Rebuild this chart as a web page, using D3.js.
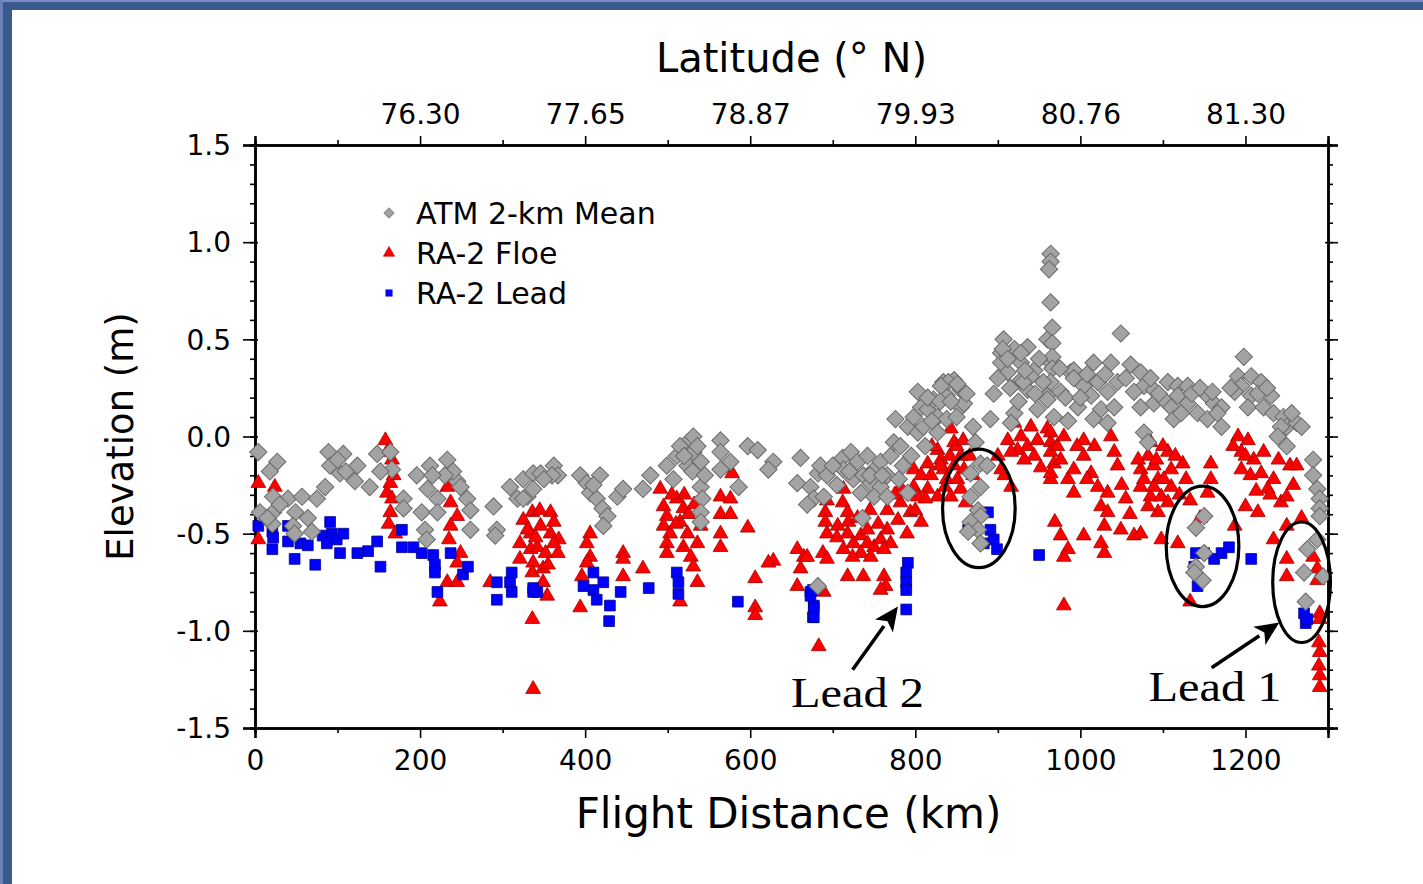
<!DOCTYPE html>
<html><head><meta charset="utf-8">
<script src="https://cdn.jsdelivr.net/npm/d3@7"></script>
<style>html,body{margin:0;padding:0;background:#fff;}svg{display:block;}</style>
</head><body>
<svg id="chart" width="1423" height="884"></svg>
<script>
// ---------- DATA ----------
const xTicks = [0, 200, 400, 600, 800, 1000, 1200];
const xMinorTicks = [100, 300, 500, 700, 900, 1100, 1300];
const yTicks = [-1.5, -1.0, -0.5, 0.0, 0.5, 1.0, 1.5];
const latTickKm = [200, 400, 600, 800, 1000, 1200];
const latTickLabels = ["76.30", "77.65", "78.87", "79.93", "80.76", "81.30"];
const seriesNames = ["ATM 2-km Mean", "RA-2 Floe", "RA-2 Lead"];

// [flight distance km, elevation m]
const atmMean = [
[4,-0.08],[27,-0.13],[18,-0.18],[22,-0.31],[6,-0.39],[22,-0.39],[40,-0.32],[57,-0.31],[75,-0.32],[49,-0.39],[64,-0.42],[21,-0.45],[46,-0.46],[48,-0.5],[69,-0.49],[89,-0.08],[107,-0.09],[91,-0.15],[103,-0.19],[124,-0.15],[121,-0.23],[85,-0.26],[139,-0.26],[148,-0.09],[164,-0.08],[166,-0.17],[152,-0.18],[180,-0.32],[180,-0.37],[196,-0.2],[212,-0.15],[233,-0.12],[209,-0.27],[221,-0.32],[202,-0.39],[221,-0.39],[245,-0.23],[249,-0.26],[257,-0.32],[261,-0.38],[240,-0.18],[206,-0.48],[208,-0.53],[261,-0.48],[289,-0.36],[293,-0.48],[291,-0.51],[309,-0.26],[325,-0.22],[337,-0.19],[318,-0.32],[330,-0.31],
[346,-0.19],[362,-0.15],[367,-0.2],[337,-0.27],[325,-0.32],[394,-0.2],[402,-0.24],[406,-0.29],[414,-0.32],[421,-0.37],[427,-0.41],[422,-0.46],[418,-0.2],[439,-0.31],[446,-0.27],[470,-0.27],[479,-0.2],[499,-0.15],[511,-0.1],[524,-0.03],[531,0.0],[515,-0.05],[531,-0.08],[540,-0.13],[524,-0.15],[507,-0.22],[540,-0.26],[542,-0.32],[540,-0.39],[540,-0.44],[564,-0.02],[564,-0.08],[576,-0.13],[564,-0.17],[597,-0.05],[609,-0.07],[628,-0.13],[622,-0.17],[586,-0.26],[661,-0.11],[657,-0.24],[673,-0.26],[677,-0.32],[669,-0.35],[682,-0.19],[682,-0.77],
[685,-0.15],[693,-0.2],[689,-0.31],[712,-0.11],[722,-0.08],[713,-0.17],[730,-0.13],[742,-0.1],[725,-0.22],[737,-0.2],[750,-0.17],[746,-0.24],[758,-0.26],[734,-0.29],[750,-0.31],[766,-0.31],[736,-0.42],[758,-0.13],[770,-0.1],[766,-0.2],[776,0.09],[774,-0.03],[782,-0.05],[791,0.05],[798,0.1],[803,0.23],[807,0.15],[815,0.14],[803,0.02],[791,-0.29],[822,0.19],[834,0.28],[847,0.29],[855,0.24],[838,0.21],[827,0.1],[838,0.09],[855,0.15],[859,0.17],[810,0.05],[827,0.02],[873,-0.03],[879,-0.14],[887,-0.15],[867,-0.19],[879,-0.26],[867,-0.31],[876,-0.38],[879,-0.41],[867,-0.44],[876,-0.48],[864,-0.49],[879,-0.55],[895,0.22],[891,0.09],[904,0.43],[904,0.38],[912,0.33],[920,0.45],[936,0.46],[928,0.38],[928,0.29],[936,0.24],[920,0.12],[916,0.07],[944,0.34],[960,0.5],[964,0.38],[960,0.21],[948,0.14],
[964,0.94],[964,0.9],[962,0.86],[964,0.69],[966,0.56],[966,0.48],[966,0.41],[966,0.35],[907,0.5],[906,0.45],[912,0.4],[928,0.43],[940,0.31],[931,0.28],[840,0.28],[851,0.27],[831,0.26],[988,0.33],[997,0.31],
[1049,0.53],[1016,0.38],[1037,0.38],[1061,0.37],[992,0.34],[964,0.28],[976,0.23],[960,0.19],[992,0.3],[1004,0.26],[1021,0.28],[1013,0.21],[1033,0.23],[1045,0.28],[997,0.15],[1025,0.14],[1041,0.15],[1016,0.09],[1033,0.07],[968,0.1],[985,0.08],[1073,0.33],[1077,0.26],[1065,0.23],[1089,0.24],[1106,0.28],[1118,0.26],[1130,0.26],[1073,0.15],[1089,0.17],[1101,0.19],[1110,0.15],[1118,0.21],[1130,0.17],[1113,0.09],[1142,0.12],[1154,0.21],[1162,0.17],[1171,0.15],[1154,0.09],[1166,0.12],[1171,0.05],[1077,0.02],[1082,-0.03],[1198,0.41],[1191,0.31],[1207,0.31],[1195,0.26],[1219,0.28],[1187,0.23],[1207,0.21],[1231,0.21],[1203,0.15],[1222,0.15],[1234,0.12],[1246,0.1],[1250,0.05],[1262,0.07],[1243,0.05],[1239,0.0],[1250,-0.05],[1282,-0.12],[1282,-0.2],[1287,-0.27],[1290,-0.32],[1290,-0.37],[1290,-0.41],[1287,-0.53],[1275,-0.58],[1271,-0.7],[1294,-0.72],[1273,-0.85],[1150,-0.41],[1140,-0.47],[1150,-0.6],[1140,-0.67],[1148,-0.74],[1138,-0.7],
[815,0.2],[820,0.08],[830,0.18],[843,0.18],[850,0.1],[862,0.22],[870,0.05],[812,-0.05],[795,-0.1],[785,-0.15],[780,-0.22],[900,0.3],[915,0.25],[925,0.18],[933,0.34],[945,0.22],[950,0.4],[955,0.28],[975,0.35],[982,0.2],[1000,0.2],[1008,0.32],[1030,0.32],[1055,0.3],[1085,0.3],[1095,0.22],[1122,0.12],[1135,0.22],[1145,0.25],[1160,0.23],[1182,0.25],[1215,0.22],[1226,0.25],[1256,0.12],[1268,0.05],[700,-0.15],[705,-0.25],[720,-0.18],[745,-0.2],[760,-0.2],[530,-0.18],[520,-0.1],[536,-0.05],[545,-0.2],[410,-0.25],[360,-0.2],[350,-0.22],[230,-0.2],[215,-0.2],[100,-0.12],[110,-0.18],[30,-0.35],[15,-0.42]
];

const ra2Floe = [
[4,-0.24],[24,-0.26],[27,-0.35],[4,-0.53],[158,-0.02],[164,-0.24],[160,-0.29],[166,-0.32],[164,-0.39],[162,-0.45],[170,-0.5],[237,-0.34],[245,-0.41],[237,-0.46],[235,-0.53],[249,-0.6],[245,-0.65],[233,-0.75],[245,-0.75],[224,-0.85],[233,-0.26],[336,-0.39],[325,-0.43],[334,-0.5],[321,-0.55],[334,-0.58],[337,-0.65],[321,-0.63],[336,-0.7],[285,-0.75],[336,-0.94],[337,-1.3],
[358,-0.39],[330,-0.48],[346,-0.46],[362,-0.44],[358,-0.5],[368,-0.53],[342,-0.57],[352,-0.6],[367,-0.6],[349,-0.68],[349,-0.75],[354,-0.82],[406,-0.5],[402,-0.55],[406,-0.62],[402,-0.65],[396,-0.72],[394,-0.88],[446,-0.6],[446,-0.63],[446,-0.72],[470,-0.68],[491,-0.27],[495,-0.36],[499,-0.41],[495,-0.46],[503,-0.5],[499,-0.55],[499,-0.6],[511,-0.32],[519,-0.37],[515,-0.44],[524,-0.5],[519,-0.57],[528,-0.62],[531,-0.67],[536,-0.55],[540,-0.46],[536,-0.75],[515,-0.85],[564,-0.31],[576,-0.32],[564,-0.4],[576,-0.4],[564,-0.5],[564,-0.57],[597,-0.47],[578,-0.19],[628,-0.64],[622,-0.65],[606,-0.73],[606,-0.88],[606,-0.92],[657,-0.58],[665,-0.62],[661,-0.68],[657,-0.77],[683,-1.08],
[669,-0.62],[688,-0.6],[693,-0.63],[689,-0.8],[693,-0.33],[691,-0.39],[691,-0.44],[693,-0.5],[713,-0.27],[712,-0.34],[718,-0.39],[719,-0.44],[718,-0.5],[725,-0.55],[713,-0.58],[734,-0.51],[742,-0.48],[742,-0.55],[750,-0.57],[758,-0.53],[766,-0.48],[770,-0.55],[762,-0.58],[734,-0.6],[746,-0.62],[766,-0.38],[779,-0.43],[782,-0.26],[782,-0.34],[718,-0.72],[737,-0.72],[762,-0.72],[764,-0.77],[758,-0.79],[798,-0.17],[798,-0.26],[807,-0.2],[803,-0.31],[794,-0.39],[807,-0.44],[815,-0.14],[819,-0.2],[815,-0.27],[827,-0.07],[831,-0.12],[834,-0.17],[838,-0.22],[827,-0.31],[843,0.04],[847,-0.03],[855,-0.1],[847,-0.15],[859,-0.17],[851,-0.22],[855,-0.27],[843,-0.31],[861,-0.34],[904,-0.17],[916,-0.26],[920,0.07],[928,0.0],[936,-0.05],[924,-0.07],[940,0.05],[944,-0.1],[960,0.04],[964,-0.03],[968,-0.14],[964,-0.22],[916,-0.08],
[964,0.02],[964,-0.08],[964,-0.19],[976,-0.12],[985,-0.22],[992,-0.29],[992,-0.17],[1004,-0.02],[1004,-0.1],[1013,-0.19],[1021,-0.26],[1033,-0.29],[1025,-0.36],[1037,0.0],[1041,-0.08],[1045,-0.15],[1033,-0.39],[1029,-0.46],[1025,-0.55],[1029,-0.6],[969,-0.44],[976,-0.51],[985,-0.58],[980,-0.62],[1004,-0.51],[1049,-0.48],[1065,-0.51],[1073,-0.5],[980,-0.87],[1073,-0.17],[1082,-0.1],[1089,-0.15],[1094,-0.22],[1073,-0.26],[1085,-0.31],[1098,-0.31],[1106,-0.08],[1110,-0.17],[1110,-0.26],[1106,-0.34],[1094,-0.39],[1098,-0.53],[1118,-0.55],[1085,-0.03],[1124,-0.14],[1133,-0.33],[1154,-0.29],[1158,-0.14],[1158,-0.22],[1133,-0.85],[1187,-0.46],[1191,0.0],[1195,-0.08],[1203,-0.02],[1210,-0.12],[1195,-0.17],[1219,-0.19],[1234,-0.22],[1200,-0.36],[1215,-0.39],[1227,-0.27],[1243,-0.34],[1250,-0.31],[1254,-0.15],[1262,-0.15],[1234,-0.53],[1250,-0.46],[1250,-0.63],[1250,-0.72],[1282,-0.62],[1287,-0.68],[1287,-0.74],[1290,-0.91],[1289,-1.06],[1290,-1.11],[1289,-1.18],[1290,-1.23],[1290,-1.29],[1290,-0.94],
[1070,-0.12],[1077,-0.22],[1101,-0.22],[1089,-0.26],[1082,-0.36],
[820,-0.05],[830,-0.15],[842,-0.1],[850,-0.05],[858,-0.02],[866,-0.1],[870,-0.2],[836,-0.26],[812,-0.32],[800,-0.38],[775,-0.3],[755,-0.45],[745,-0.38],[730,-0.42],[724,-0.62],[705,-0.52],[706,-0.46],[790,-0.5],[900,-0.1],[912,-0.02],[908,-0.2],[932,-0.12],[948,-0.02],[952,-0.16],[972,-0.05],[980,0.0],[996,-0.05],[1008,-0.22],[1017,-0.05],[1050,-0.25],[1055,-0.32],[1060,-0.4],[1092,-0.12],[1100,-0.05],[1115,-0.1],[1120,-0.3],[1128,-0.22],[1145,-0.42],[1185,-0.05],[1200,-0.1],[1206,-0.2],[1213,-0.28],[1222,-0.08],[1230,-0.3],[1240,-0.12],[1258,-0.25],[1268,-0.42],[520,-0.3],[505,-0.3],[510,-0.45],[525,-0.4],[532,-0.35],[345,-0.38],[340,-0.52],[362,-0.55],[355,-0.66],[166,-0.12],[168,-0.2],[160,-0.08]
];

const ra2Lead = [
[4,-0.46],[21,-0.49],[22,-0.52],[21,-0.58],[40,-0.46],[40,-0.54],[48,-0.63],[55,-0.55],[64,-0.56],[73,-0.66],[82,-0.51],[91,-0.44],[93,-0.5],[99,-0.53],[107,-0.5],[103,-0.6],[87,-0.55],[124,-0.6],[137,-0.59],[148,-0.54],[152,-0.67],[178,-0.48],[178,-0.57],[192,-0.57],[202,-0.6],[216,-0.61],[218,-0.66],[218,-0.7],[237,-0.6],[252,-0.71],[258,-0.67],[221,-0.8],[293,-0.75],[293,-0.84],[309,-0.75],[311,-0.7],[311,-0.8],[337,-0.8],
[342,-0.8],[337,-0.78],[410,-0.7],[398,-0.77],[410,-0.79],[422,-0.75],[414,-0.84],[430,-0.87],[443,-0.8],[429,-0.95],[477,-0.78],[511,-0.7],[513,-0.75],[513,-0.81],[585,-0.85],[673,-0.8],[677,-0.87],[676,-0.93],
[673,-0.82],[677,-0.88],[677,-0.93],[676,-0.79],[791,-0.65],[789,-0.7],[789,-0.75],[789,-0.79],[789,-0.89],[888,-0.39],[891,-0.48],[895,-0.53],[899,-0.58],[883,-0.55],[864,-0.48],[950,-0.61],
[1140,-0.6],[1150,-0.6],[1162,-0.63],[1171,-0.6],[1180,-0.57],[1138,-0.67],[1142,-0.77],[1207,-0.63],[1271,-0.91],[1273,-0.96],[1275,-0.94]
];

// annotations in data units
const ellipses = [
  {km: 877, m: -0.37, rkm: 44, rm: 0.305},
  {km: 1148, m: -0.565, rkm: 44, rm: 0.31},
  {km: 1268, m: -0.75, rkm: 35, rm: 0.31}
];
const leadLabels = [
  {text: "Lead 2", km: 730, m: -1.39, tailKm: 724, tailM: -1.2, tipKm: 779, tipM: -0.875},
  {text: "Lead 1", km: 1163, m: -1.36, tailKm: 1159, tailM: -1.19, tipKm: 1241, tipM: -0.957}
];

// ---------- CHART ----------
const svg = d3.select("#chart");
const L = 255, R = 1328, T = 145, B = 728;
const x = d3.scaleLinear().domain([0, 1300]).range([L, R]);
const y = d3.scaleLinear().domain([-1.5, 1.5]).range([B, T]);

// frame
svg.append("rect").attr("x",0).attr("y",0).attr("width",1423).attr("height",884).attr("fill","#fff");
svg.append("rect").attr("x",0).attr("y",0).attr("width",1423).attr("height",10).attr("fill","#3a5a8d");
svg.append("rect").attr("x",0).attr("y",0).attr("width",12).attr("height",884).attr("fill","#3a5a8d");
svg.append("rect").attr("x",0).attr("y",0).attr("width",1423).attr("height",2).attr("fill","#7a8cc0");
svg.append("rect").attr("x",0).attr("y",0).attr("width",3).attr("height",884).attr("fill","#6c80b8");

const FONT = "'DejaVu Sans', sans-serif";
const fmt = d => d.toFixed(1);

function styleAxis(g, fs){
  g.selectAll(".domain").attr("stroke","#000").attr("stroke-width",2.5);
  g.selectAll(".tick line").attr("stroke","#000").attr("stroke-width",1.6);
  g.selectAll(".tick text").attr("fill","#000").style("font-family",FONT).style("font-size",fs+"px");
}

// minor ticks
const yMinor = d3.range(-15, 16).map(v => v/10);
svg.append("g").attr("transform",`translate(${L},0)`).call(d3.axisLeft(y).tickValues(yMinor).tickSize(5).tickFormat("")).call(g=>styleAxis(g,0));
svg.append("g").attr("transform",`translate(${R},0)`).call(d3.axisRight(y).tickValues(yMinor).tickSize(5).tickFormat("")).call(g=>styleAxis(g,0));
svg.append("g").attr("transform",`translate(0,${B})`).call(d3.axisBottom(x).tickValues(xMinorTicks).tickSize(5).tickFormat("")).call(g=>styleAxis(g,0));
svg.append("g").attr("transform",`translate(0,${T})`).call(d3.axisTop(x).tickValues(xMinorTicks).tickSize(5).tickFormat("")).call(g=>styleAxis(g,0));

// major axes
const gl = svg.append("g").attr("transform",`translate(${L},0)`)
  .call(d3.axisLeft(y).tickValues(yTicks).tickSize(12).tickPadding(12).tickFormat(fmt)).call(g=>styleAxis(g,28));
gl.selectAll(".tick line").attr("x2",-12).attr("x1",3);
gl.selectAll(".tick text").attr("dy","0.35em");
const gr = svg.append("g").attr("transform",`translate(${R},0)`)
  .call(d3.axisRight(y).tickValues(yTicks).tickSize(10).tickFormat("")).call(g=>styleAxis(g,0));
gr.selectAll(".tick line").attr("x1",-3);
svg.append("g").attr("transform",`translate(0,${B})`)
  .call(d3.axisBottom(x).tickValues(xTicks).tickSize(10).tickPadding(12).tickFormat(d3.format("d"))).call(g=>styleAxis(g,28));
svg.append("g").attr("transform",`translate(0,${T})`)
  .call(d3.axisTop(x).tickValues(latTickKm).tickSize(9).tickPadding(12).tickFormat((d,i)=>latTickLabels[i])).call(g=>styleAxis(g,28));

// titles
svg.append("text").attr("x",(L+R)/2).attr("y",72).attr("text-anchor","middle")
  .style("font-family",FONT).style("font-size","40px").text("Latitude (° N)");
svg.append("text").attr("x",(L+R)/2 - 3).attr("y",828).attr("text-anchor","middle")
  .style("font-family",FONT).style("font-size","42px").text("Flight Distance (km)");
svg.append("text").attr("transform",`translate(133,${y(0)}) rotate(-90)`).attr("text-anchor","middle")
  .style("font-family",FONT).style("font-size","37px").text("Elevation (m)");

// symbols
const diamond = d3.symbol().type(d3.symbolSquare).size(150);
const tri = d3.symbol().type(d3.symbolTriangle).size(95);
const sq = d3.symbol().type(d3.symbolSquare).size(115);
const plot = svg.append("g");

plot.append("g").selectAll("path").data(ra2Floe).join("path")
  .attr("d", tri).attr("transform", d => `translate(${x(d[0])},${y(d[1])})`)
  .attr("fill","#ff0000").attr("stroke","#a00000").attr("stroke-width",0.8);
plot.append("g").selectAll("path").data(ra2Lead).join("path")
  .attr("d", sq).attr("transform", d => `translate(${x(d[0])},${y(d[1])})`)
  .attr("fill","#0000ff").attr("stroke","#00008a").attr("stroke-width",0.8);
plot.append("g").selectAll("path").data(atmMean).join("path")
  .attr("d", diamond).attr("transform", d => `translate(${x(d[0])},${y(d[1])}) rotate(45)`)
  .attr("fill","#a3a3a3").attr("stroke","#6a6a6a").attr("stroke-width",1);

// legend
const leg = svg.append("g");
const legY = [213, 253, 293];
leg.append("path").attr("d", d3.symbol().type(d3.symbolSquare).size(50)).attr("transform",`translate(389,${legY[0]}) rotate(45)`).attr("fill","#a3a3a3").attr("stroke","#8a8a8a");
leg.append("path").attr("d", d3.symbol().type(d3.symbolTriangle).size(55)).attr("transform",`translate(389,${legY[1]})`).attr("fill","#ff0000").attr("stroke","#c00000").attr("stroke-width",0.6);
leg.append("path").attr("d", d3.symbol().type(d3.symbolSquare).size(50)).attr("transform",`translate(389,${legY[2]})`).attr("fill","#0000ff");
seriesNames.forEach((n,i)=>{
  leg.append("text").attr("x",416).attr("y",legY[i]+11).style("font-family",FONT).style("font-size","30px").text(n);
});

// ellipses
svg.append("g").selectAll("ellipse").data(ellipses).join("ellipse")
  .attr("cx", d=>x(d.km)).attr("cy", d=>y(d.m))
  .attr("rx", d=>x(d.rkm)-x(0)).attr("ry", d=>y(0)-y(d.rm))
  .attr("fill","none").attr("stroke","#000").attr("stroke-width",3.2);

// lead labels and arrows
const ann = svg.append("g");
leadLabels.forEach(a=>{
  const x1=x(a.tailKm), y1=y(a.tailM), x2=x(a.tipKm), y2=y(a.tipM);
  const ang=Math.atan2(y2-y1,x2-x1), hl=24, hw=11;
  const bx=x2-hl*Math.cos(ang), by=y2-hl*Math.sin(ang);
  ann.append("line").attr("x1",x1).attr("y1",y1).attr("x2",bx).attr("y2",by).attr("stroke","#000").attr("stroke-width",3.5);
  const px=-Math.sin(ang), py=Math.cos(ang);
  ann.append("path").attr("d",`M${x2},${y2} L${bx+px*hw},${by+py*hw} L${bx+hl*0.25*Math.cos(ang)},${by+hl*0.25*Math.sin(ang)} L${bx-px*hw},${by-py*hw} Z`).attr("fill","#000");
  ann.append("text").attr("x",x(a.km)).attr("y",y(a.m)).attr("text-anchor","middle")
    .style("font-family","'Liberation Serif', 'Times New Roman', serif").style("font-size","42px")
    .attr("textLength",133).attr("lengthAdjust","spacingAndGlyphs").text(a.text);
});
</script>
</body></html>
